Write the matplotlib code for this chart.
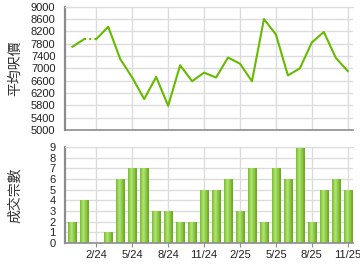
import numpy as np
import matplotlib
matplotlib.use('Agg')
import matplotlib.pyplot as plt

plt.rcParams['font.family'] = ['Liberation Sans', 'Noto Sans CJK TC', 'DejaVu Sans']

# 月份 12/23 .. 11/25
months = ['12/23', '1/24', '2/24', '3/24', '4/24', '5/24', '6/24', '7/24', '8/24',
          '9/24', '10/24', '11/24', '12/24', '1/25', '2/25', '3/25', '4/25', '5/25',
          '6/25', '7/25', '8/25', '9/25', '10/25', '11/25']
avg_price = [7700, 7950, 7950, 8350, 7300, 6700, 6000, 6720, 5780, 7100, 6580, 6860,
             6700, 7350, 7150, 6580, 8600, 8100, 6770, 7000, 7840, 8180, 7340, 6910]
deals = [2, 4, 0, 1, 6, 7, 7, 3, 3, 2, 2, 5, 5, 6, 3, 7, 2, 7, 6, 9, 2, 5, 6, 5]
tick_labels = ['2/24', '5/24', '8/24', '11/24', '2/25', '5/25', '8/25', '11/25']

x = np.arange(len(months))
tick_pos = [months.index(m) for m in tick_labels]

grid_c = '#dcdcdc'
spine_c = '#8c8c8c'
green = '#66bb00'

fig = plt.figure(figsize=(3.6, 2.7), dpi=100)
ax1 = fig.add_axes([0.181, 0.519, 0.8, 0.456])
ax2 = fig.add_axes([0.181, 0.1, 0.8, 0.356])


def style(ax):
    ax.set_xlim(-0.6, 23.45)
    ax.set_xticks(tick_pos)
    ax.grid(True, color=grid_c, lw=1)
    ax.set_axisbelow(True)
    ax.spines['right'].set_visible(False)
    ax.spines['top'].set_color(grid_c)
    ax.spines['left'].set_color(spine_c)
    ax.spines['left'].set_linewidth(1.6)
    ax.spines['bottom'].set_color(spine_c)
    ax.spines['bottom'].set_linewidth(1.2)
    ax.tick_params(axis='y', length=0, labelsize=8, pad=7, colors='#222222')
    ax.tick_params(axis='x', length=3, color=spine_c, labelsize=8, pad=2, colors='#222222')


# 平均呎價 线图
style(ax1)
ax1.set_ylim(5000, 9000)
ax1.set_yticks(range(5000, 9001, 400))
ax1.set_xticklabels([])
ax1.tick_params(axis='x', length=0)
ax1.plot(x[:2], avg_price[:2], color=green, lw=1.5)
ax1.plot(x[1:3], avg_price[1:3], color=green, lw=1.5, ls=(0, (1, 1.5)))
ax1.plot(x[2:], avg_price[2:], color=green, lw=1.5)
ax1.set_ylabel('平均呎價', fontsize=10, color='#333333')

# 成交宗數 柱状图
style(ax2)
ax2.set_ylim(0, 9)
ax2.set_yticks(range(0, 10))
ax2.set_xticklabels(tick_labels)
bars = ax2.bar(x, deals, width=0.66, color='#86c83a', edgecolor='#5c9f12', lw=0.6, zorder=2)
grad = np.linspace(0, 1, 50)
grad = 1 - np.abs(grad - 0.45) * 2
cmap = matplotlib.colors.LinearSegmentedColormap.from_list('g', ['#6cb51c', '#b4e37a'])
for b in bars:
    if b.get_height() <= 0:
        continue
    x0, w, h = b.get_x(), b.get_width(), b.get_height()
    im = ax2.imshow(grad[np.newaxis, :], cmap=cmap, aspect='auto',
                    extent=[x0, x0 + w, 0, h], zorder=2.5)
    im.set_clip_path(b)
ax2.set_xlim(-0.6, 23.45)
ax2.set_ylim(0, 9)
ax2.set_ylabel('成交宗數', fontsize=10, color='#333333')
ax1.yaxis.set_label_coords(-0.15, 0.5)
ax2.yaxis.set_label_coords(-0.15, 0.5)

fig.savefig('out.png', dpi=100)
